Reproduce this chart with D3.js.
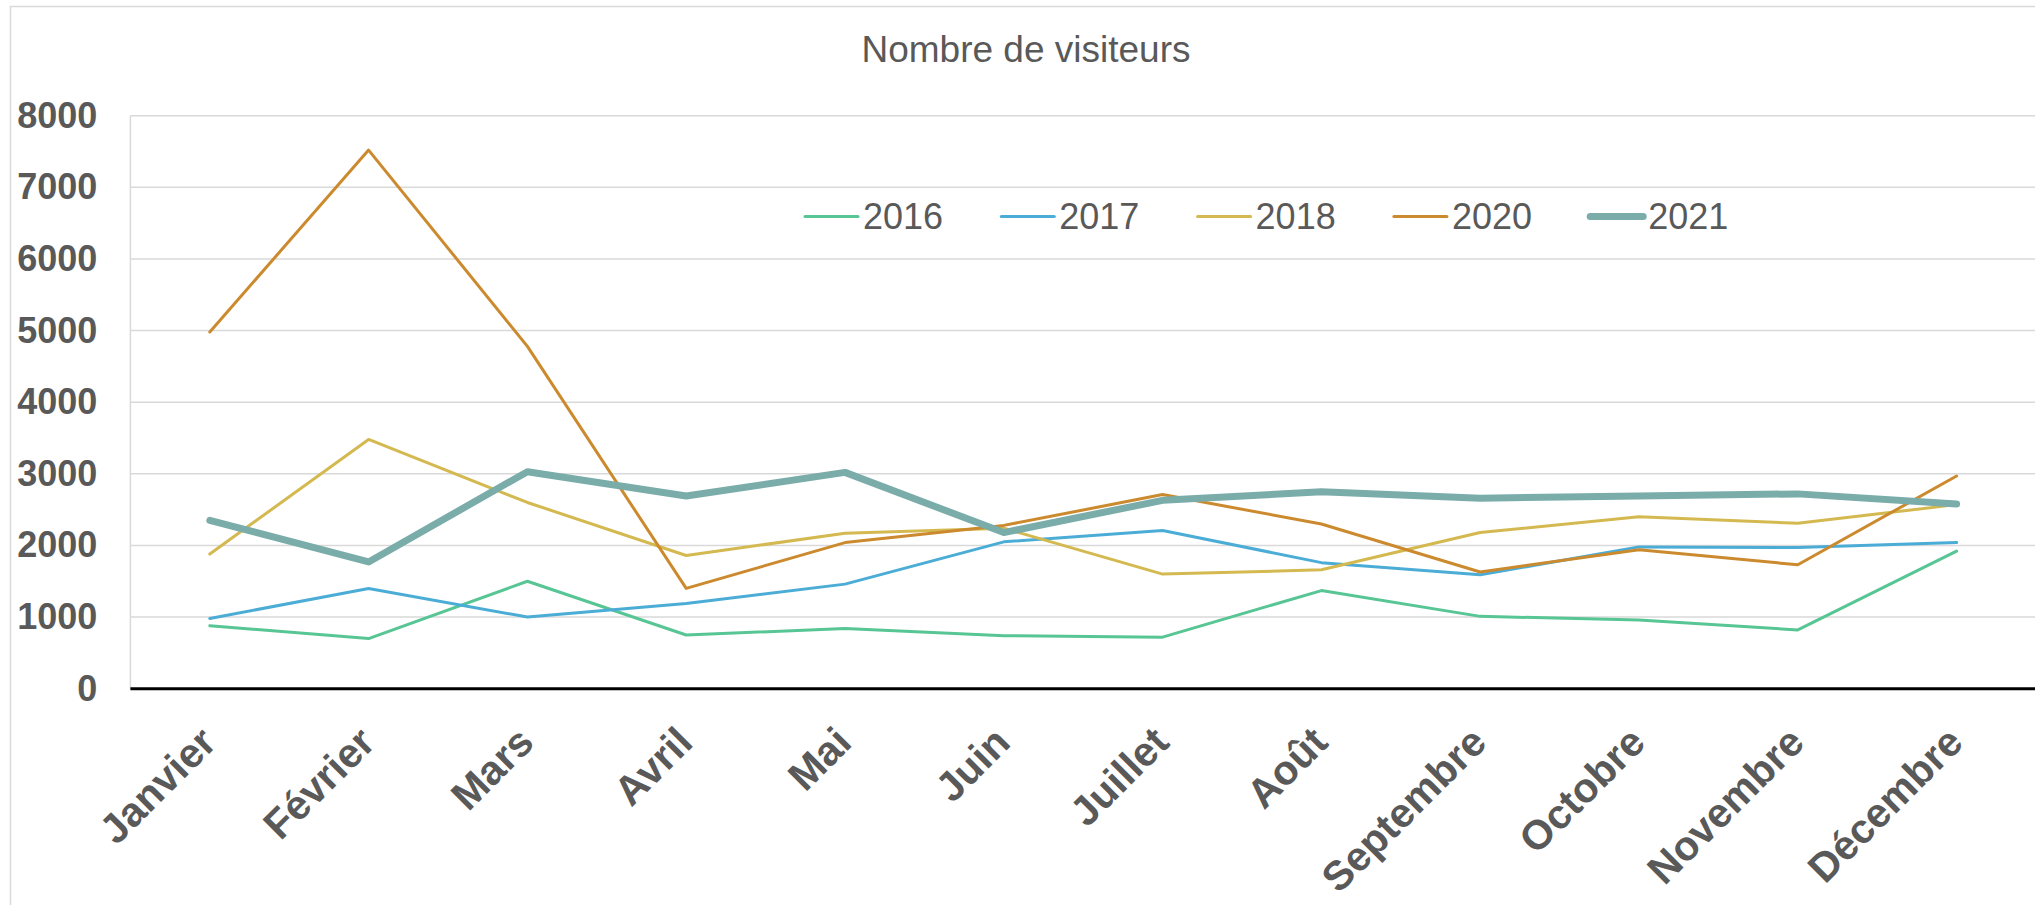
<!DOCTYPE html>
<html>
<head>
<meta charset="utf-8">
<script src="https://cdn.jsdelivr.net/npm/d3@7"></script>
<style>
  html, body { margin: 0; padding: 0; background: #fff; }
  svg { display: block; font-family: "Liberation Sans", Arial, sans-serif; }
</style>
</head>
<body>
<svg id="chart" width="2035" height="905"></svg>
<script>
// data
var months = ["Janvier", "Février", "Mars", "Avril", "Mai", "Juin", "Juillet",
              "Août", "Septembre", "Octobre", "Novembre", "Décembre"];
var years = ["2016", "2017", "2018", "2020", "2021"];
var v2016 = [880, 700, 1500, 750, 840, 740, 720, 1370, 1010, 960, 820, 1920];
var v2017 = [980, 1400, 1000, 1190, 1460, 2050, 2210, 1760, 1590, 1980, 1970, 2040];
var v2018 = [1880, 3480, 2600, 1860, 2170, 2240, 1600, 1660, 2180, 2400, 2310, 2570];
var v2020 = [4980, 7520, 4780, 1400, 2040, 2280, 2710, 2300, 1630, 1940, 1730, 2970];
var v2021 = [2350, 1770, 3030, 2690, 3020, 2180, 2630, 2750, 2660, 2690, 2720, 2580];
var yTicks = [0, 1000, 2000, 3000, 4000, 5000, 6000, 7000, 8000];

var colors = ["#57c594", "#4badd6", "#d4b950", "#cc8a2e", "#7aacaa"];
var widths = [3, 3, 3, 3, 7];
var series = [v2016, v2017, v2018, v2020, v2021].map(function (vals, i) {
    return { name: years[i], values: vals, color: colors[i], width: widths[i] };
});

var svg = d3.select("#chart");
var plot = { left: 130.4, right: 2036, top: 115.7, bottom: 688.7 };
var textColor = "#595959";

// outer chart border
svg.append("rect")
    .attr("x", 10.5).attr("y", 6.5)
    .attr("width", 2100).attr("height", 1000)
    .attr("fill", "#fff")
    .attr("stroke", "#d9d9d9").attr("stroke-width", 1.5);

var x = d3.scalePoint().domain(months).range([plot.left, plot.right]).padding(0.5);
var y = d3.scaleLinear().domain([0, 8000]).range([plot.bottom, plot.top]);

// gridlines
svg.append("g").selectAll("line")
    .data(yTicks.filter(function (d) { return d > 0; }))
  .enter().append("line")
    .attr("x1", plot.left).attr("x2", plot.right)
    .attr("y1", function (d) { return y(d); })
    .attr("y2", function (d) { return y(d); })
    .attr("stroke", "#d9d9d9").attr("stroke-width", 1.5);

// vertical axis line
svg.append("line")
    .attr("x1", plot.left).attr("x2", plot.left)
    .attr("y1", plot.top).attr("y2", plot.bottom)
    .attr("stroke", "#d9d9d9").attr("stroke-width", 1.5);

// y axis labels
var yAxis = d3.axisLeft(y).tickValues(yTicks).tickFormat(d3.format("d"))
    .tickSize(0).tickPadding(33);
svg.append("g")
    .attr("transform", "translate(" + plot.left + ",0)")
    .call(yAxis)
    .call(function (g) { g.select(".domain").remove(); })
    .selectAll("text")
    .attr("font-family", "Liberation Sans, Arial, sans-serif")
    .attr("font-size", 36).attr("font-weight", "bold")
    .attr("fill", textColor);

// x axis labels
var xAxis = d3.axisBottom(x).tickSize(0).tickPadding(0);
svg.append("g")
    .attr("transform", "translate(0," + plot.bottom + ")")
    .call(xAxis)
    .call(function (g) { g.select(".domain").remove(); })
    .selectAll("text")
    .attr("font-family", "Liberation Sans, Arial, sans-serif")
    .attr("font-size", 41).attr("font-weight", "bold")
    .attr("fill", textColor)
    .attr("text-anchor", "end")
    .attr("dy", null).attr("y", 0)
    .attr("transform", "translate(8,56) rotate(-45)");

// lines
var line = d3.line()
    .x(function (d, i) { return x(months[i]); })
    .y(function (d) { return y(d); });

svg.append("g").selectAll("path")
    .data(series)
  .enter().append("path")
    .attr("d", function (d) { return line(d.values); })
    .attr("fill", "none")
    .attr("stroke", function (d) { return d.color; })
    .attr("stroke-width", function (d) { return d.width; })
    .attr("stroke-linejoin", "round")
    .attr("stroke-linecap", "round");

// baseline
svg.append("line")
    .attr("x1", plot.left).attr("x2", plot.right)
    .attr("y1", plot.bottom).attr("y2", plot.bottom)
    .attr("stroke", "#000").attr("stroke-width", 3);

// title
svg.append("text")
    .attr("x", 1026).attr("y", 62)
    .attr("text-anchor", "middle")
    .attr("font-size", 37)
    .attr("fill", textColor)
    .text("Nombre de visiteurs");

// legend
var legend = svg.append("g").attr("transform", "translate(805,216.5)");
var item = legend.selectAll("g")
    .data(series)
  .enter().append("g")
    .attr("transform", function (d, i) { return "translate(" + (i * 196.3) + ",0)"; });
item.append("line")
    .attr("x1", 0).attr("x2", 53)
    .attr("stroke", function (d) { return d.color; })
    .attr("stroke-width", function (d) { return d.width; })
    .attr("stroke-linecap", "round");
item.append("text")
    .attr("x", 58).attr("y", 12.5)
    .attr("font-size", 36)
    .attr("fill", textColor)
    .text(function (d) { return d.name; });
</script>
</body>
</html>
